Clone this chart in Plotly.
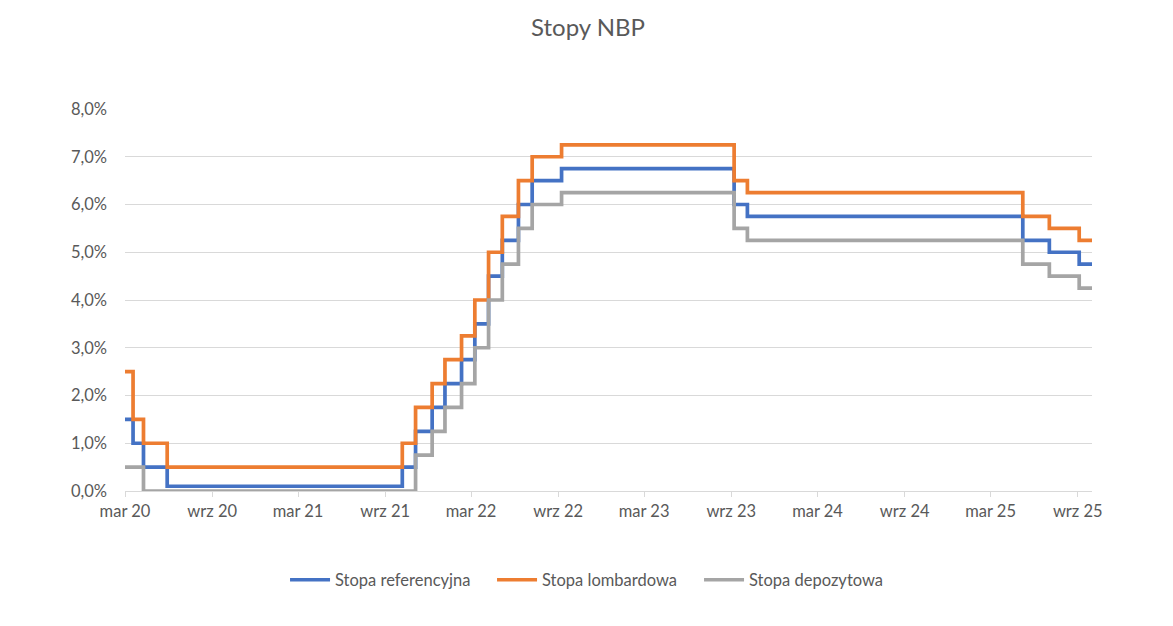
import plotly.graph_objects as go

# Dates of rate changes (step start), last entry = end of series
dates = ["2020-03-01", "2020-03-18", "2020-04-09", "2020-05-29", "2021-10-07",
         "2021-11-04", "2021-12-09", "2022-01-05", "2022-02-09", "2022-03-09",
         "2022-04-07", "2022-05-06", "2022-06-09", "2022-07-08", "2022-09-08",
         "2023-09-07", "2023-10-05", "2025-05-08", "2025-07-03", "2025-09-04",
         "2025-10-01"]
stopa_referencyjna = [0.015, 0.010, 0.005, 0.001, 0.005, 0.0125, 0.0175, 0.0225, 0.0275, 0.035,
                      0.045, 0.0525, 0.060, 0.065, 0.0675, 0.060, 0.0575, 0.0525, 0.050, 0.0475,
                      0.0475]
stopa_lombardowa = [0.025, 0.015, 0.010, 0.005, 0.010, 0.0175, 0.0225, 0.0275, 0.0325, 0.040,
                    0.050, 0.0575, 0.065, 0.070, 0.0725, 0.065, 0.0625, 0.0575, 0.055, 0.0525,
                    0.0525]
stopa_depozytowa = [0.005, 0.005, 0.000, 0.000, 0.000, 0.0075, 0.0125, 0.0175, 0.0225, 0.030,
                    0.040, 0.0475, 0.055, 0.060, 0.0625, 0.055, 0.0525, 0.0475, 0.045, 0.0425,
                    0.0425]

tick_dates = ["2020-03-01", "2020-09-01", "2021-03-01", "2021-09-01", "2022-03-01", "2022-09-01",
              "2023-03-01", "2023-09-01", "2024-03-01", "2024-09-01", "2025-03-01", "2025-09-01"]
tick_labels = ["mar 20", "wrz 20", "mar 21", "wrz 21", "mar 22", "wrz 22",
               "mar 23", "wrz 23", "mar 24", "wrz 24", "mar 25", "wrz 25"]

series = [
    ("Stopa referencyjna", stopa_referencyjna, "#4472C4"),
    ("Stopa lombardowa", stopa_lombardowa, "#ED7D31"),
    ("Stopa depozytowa", stopa_depozytowa, "#A5A5A5"),
]

FONT = "Lato"
FS = 16.5
fig = go.Figure()
for name, vals, col in series:
    fig.add_trace(go.Scatter(x=dates, y=vals, name=name, mode="lines",
                             line=dict(color=col, width=3.7, shape="hv")))

fig.update_layout(
    width=1173, height=626,
    paper_bgcolor="white", plot_bgcolor="white",
    margin=dict(l=117, r=89, t=101, b=143, autoexpand=False),
    separators=", ",
    title=dict(text="Stopy NBP", x=580 / 1173, xref="container", xanchor="center",
               y=1 - 20 / 626, yanchor="middle",
               font=dict(family=FONT, size=24, color="#595959")),
    font=dict(family=FONT, size=FS, color="#595959"),
    showlegend=True,
    legend=dict(orientation="h", x=0.1655, xanchor="left",
                y=-0.233, yanchor="middle",
                font=dict(family=FONT, size=FS, color="#595959"),
                itemwidth=40, tracegroupgap=0,
                entrywidth=152, entrywidthmode="pixels"),
)
fig.update_xaxes(type="date", range=["2020-03-01", "2025-10-01"],
                 tickvals=tick_dates, ticktext=tick_labels, tickangle=0,
                 showgrid=False, showline=True, linecolor="#D9D9D9", linewidth=1,
                 ticks="outside", ticklen=5, tickcolor="#D9D9D9",
                 tickfont=dict(family=FONT, size=FS, color="#595959"))
fig.update_yaxes(range=[0, 0.08], dtick=0.01, tickformat=".1%",
                 showgrid=True, gridcolor="#D9D9D9", gridwidth=1,
                 zeroline=False, showline=False, ticks="",
                 ticklabelstandoff=17,
                 tickfont=dict(family=FONT, size=FS, color="#595959"))

fig.write_html("out.html")
